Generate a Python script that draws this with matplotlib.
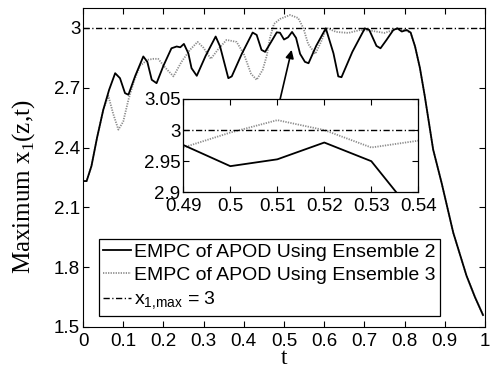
import matplotlib
matplotlib.use("Agg")
import matplotlib.pyplot as plt

plt.rcParams['font.family'] = ['Liberation Sans', 'DejaVu Sans']
plt.rcParams['mathtext.fontset'] = 'custom'
plt.rcParams['mathtext.rm'] = 'Liberation Serif'
plt.rcParams['mathtext.sf'] = 'Liberation Sans'

# ---- data ----
t_e2 = [0, 0.009, 0.021, 0.035, 0.0505, 0.065, 0.08, 0.092, 0.1045, 0.113, 0.13,
        0.15, 0.16, 0.171, 0.183, 0.20, 0.22, 0.233, 0.242, 0.251, 0.262, 0.27,
        0.283, 0.305, 0.33, 0.341, 0.3615, 0.37, 0.395, 0.422, 0.432, 0.444,
        0.453, 0.468, 0.482, 0.49, 0.50, 0.51, 0.52, 0.53, 0.54, 0.552, 0.561,
        0.58, 0.604, 0.623, 0.635, 0.643, 0.67, 0.701, 0.712, 0.73, 0.74, 0.755,
        0.772, 0.782, 0.793, 0.805, 0.815, 0.826, 0.838, 0.85, 0.871, 0.892,
        0.921, 0.954, 0.975, 0.995]
v_e2 = [2.232, 2.232, 2.307, 2.45, 2.59, 2.69, 2.773, 2.748, 2.673, 2.665, 2.76,
        2.857, 2.83, 2.74, 2.723, 2.81, 2.898, 2.907, 2.903, 2.92, 2.873, 2.798,
        2.76, 2.86, 2.957, 2.907, 2.748, 2.757, 2.87, 2.977, 2.965, 2.89,
        2.88, 2.93, 2.978, 2.976, 2.942, 2.953, 2.98, 2.95, 2.87, 2.83, 2.823,
        2.91, 2.998, 2.873, 2.757, 2.753, 2.88, 2.998, 2.99, 2.91, 2.898, 2.94,
        2.99, 2.998, 2.982, 2.99, 2.977, 2.907, 2.80, 2.66, 2.39, 2.223,
        1.973, 1.757, 1.65, 1.56]

t_e3 = [0, 0.009, 0.021, 0.035, 0.0505, 0.063, 0.075, 0.088, 0.10, 0.113, 0.128,
        0.142, 0.16, 0.175, 0.187, 0.205, 0.225, 0.245, 0.266, 0.285, 0.30,
        0.318, 0.335, 0.357, 0.382, 0.40, 0.418, 0.432, 0.447, 0.457, 0.465,
        0.475, 0.49, 0.515, 0.535, 0.548, 0.56, 0.578, 0.592, 0.606, 0.63,
        0.66, 0.69, 0.72, 0.75, 0.78, 0.80, 0.815, 0.826, 0.838, 0.85, 0.871,
        0.892, 0.921, 0.954, 0.975, 0.995]
v_e3 = [2.232, 2.232, 2.307, 2.45, 2.59, 2.66, 2.57, 2.49, 2.53, 2.64, 2.74,
        2.81, 2.84, 2.845, 2.845, 2.80, 2.757, 2.83, 2.89, 2.93, 2.90,
        2.845, 2.89, 2.94, 2.93, 2.87, 2.77, 2.74, 2.79, 2.86, 2.95,
        3.02, 3.045, 3.065, 3.05, 3.0, 2.92, 2.87, 2.93, 3.0, 2.98,
        2.975, 2.99, 2.985, 2.975, 2.995, 2.99, 2.975, 2.907, 2.80, 2.66, 2.39,
        2.223, 1.973, 1.757, 1.65, 1.56]

x1_max = 3.0

t_inset = [0.49, 0.50, 0.51, 0.52, 0.53, 0.54]
v_e2_inset = [2.976, 2.942, 2.953, 2.98, 2.95, 2.856]
v_e3_inset = [2.972, 2.996, 3.016, 3.0, 2.972, 2.983]

xticks = [0, 0.1, 0.2, 0.3, 0.4, 0.5, 0.6, 0.7, 0.8, 0.9, 1]
xticklabels = ['0', '0.1', '0.2', '0.3', '0.4', '0.5', '0.6', '0.7', '0.8', '0.9', '1']
yticks = [1.5, 1.8, 2.1, 2.4, 2.7, 3.0]
yticklabels = ['1.5', '1.8', '2.1', '2.4', '2.7', '3']
inset_xticks = [0.49, 0.50, 0.51, 0.52, 0.53, 0.54]
inset_xticklabels = ['0.49', '0.5', '0.51', '0.52', '0.53', '0.54']
inset_yticks = [2.9, 2.95, 3.0, 3.05]
inset_yticklabels = ['2.9', '2.95', '3', '3.05']

labels = ['EMPC of APOD Using Ensemble 2', 'EMPC of APOD Using Ensemble 3',
          r'x$_{\mathsf{1{,}max}}$ = 3']

# ---- styles ----
solid_kw = dict(color='black', lw=1.3, linestyle='-', zorder=3)
dot_kw = dict(color='0.55', lw=1.3, linestyle=(0, (0.7, 0.7)), zorder=2)
dd_kw = dict(color='black', lw=1.0, linestyle=(0, (4.5, 1.8, 0.9, 1.8)), zorder=2.5)
FS = 13.5

fig = plt.figure(figsize=(4.92, 3.71), dpi=100)
ax = fig.add_axes([0.1687, 0.1186, 0.8171, 0.8598])

ax.plot(t_e2, v_e2, label=labels[0], **solid_kw)
ax.plot(t_e3, v_e3, label=labels[1], **dot_kw)
ax.plot([0, 1], [x1_max, x1_max], label=labels[2], **dd_kw)

ax.set_xlim(0, 1)
ax.set_ylim(1.5, 3.1)
ax.set_xticks(xticks)
ax.set_xticklabels(xticklabels)
ax.set_yticks(yticks)
ax.set_yticklabels(yticklabels)
ax.tick_params(direction='in', top=True, right=True, length=4, width=0.8,
               labelsize=FS, pad=2)
ax.tick_params(axis='x', pad=4)
for s in ax.spines.values():
    s.set_linewidth(0.8)

ax.set_xlabel('t', family='Liberation Serif', fontsize=17, labelpad=-1)
ax.set_ylabel(r'Maximum x$_{1}$(z,t)', family='Liberation Serif', fontsize=18)
ax.yaxis.set_label_coords(-0.115, 0.44)

leg = ax.legend(loc='lower left', bbox_to_anchor=(0.0405, 0.0345),
                borderaxespad=0, fontsize=14, frameon=True, fancybox=False,
                edgecolor='black', framealpha=1, borderpad=0.2,
                handlelength=1.45, handletextpad=0.15, labelspacing=0.3)
leg.get_frame().set_linewidth(0.9)

ax.annotate('', xy=(0.519, 2.89), xytext=(0.49, 2.64),
            arrowprops=dict(arrowstyle='-|>', color='black', lw=1.2,
                            mutation_scale=12, shrinkA=0, shrinkB=0))

# ---- inset ----
ins = fig.add_axes([0.3726, 0.4817, 0.4776, 0.2515])
ins.set_facecolor('white')
ins.plot(t_inset, v_e2_inset, **solid_kw)
ins.plot(t_inset, v_e3_inset, **dot_kw)
ins.plot([0.49, 0.54], [x1_max, x1_max], **dd_kw)
ins.set_xlim(0.49, 0.54)
ins.set_ylim(2.9, 3.05)
ins.set_xticks(inset_xticks)
ins.set_xticklabels(inset_xticklabels)
ins.set_yticks(inset_yticks)
ins.set_yticklabels(inset_yticklabels)
ins.tick_params(direction='in', top=True, right=True, length=4, width=0.8,
                labelsize=FS, pad=2)
ins.tick_params(axis='x', pad=4)
for s in ins.spines.values():
    s.set_linewidth(0.9)

fig.savefig('out.png', dpi=100)
